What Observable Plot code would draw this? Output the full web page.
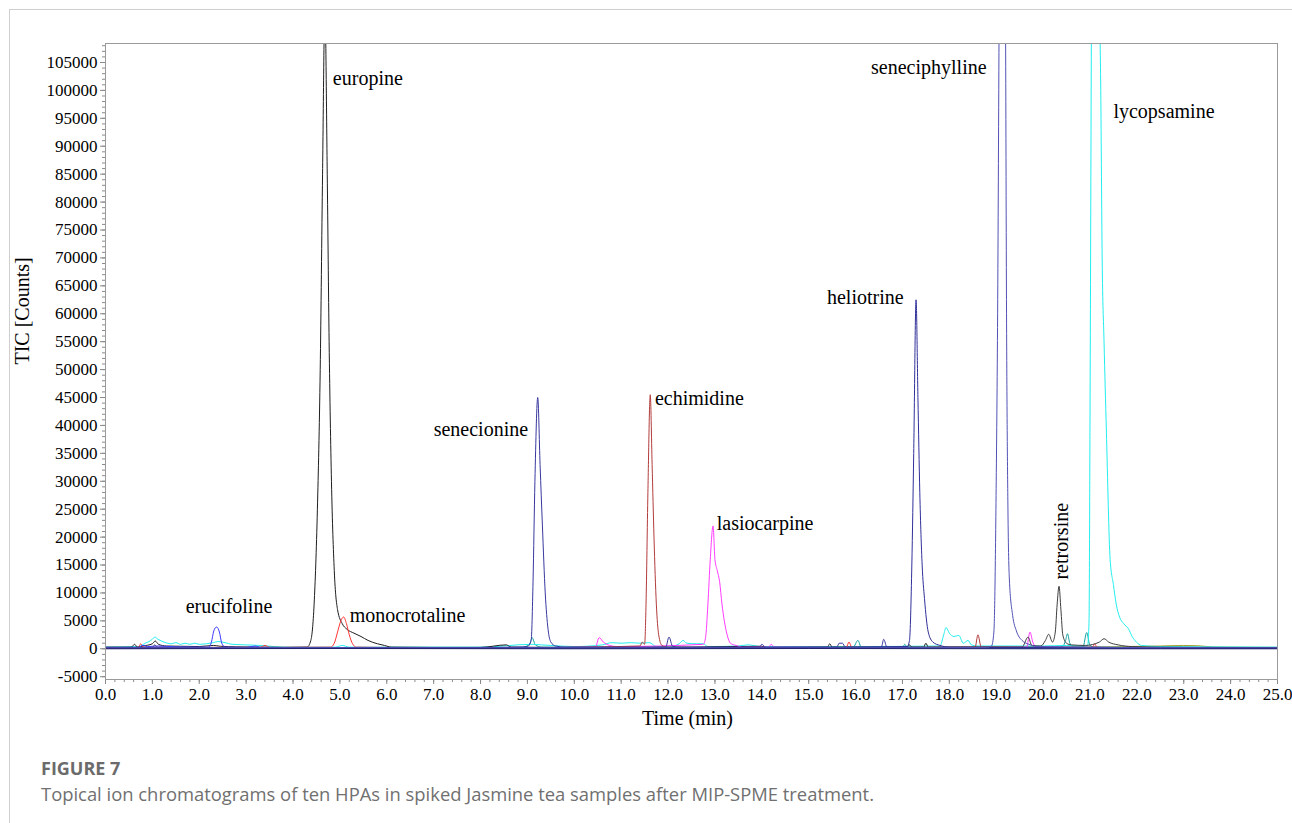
<!DOCTYPE html>
<html>
<head>
<meta charset="utf-8">
<script src="https://cdn.jsdelivr.net/npm/d3@7"></script>
<script src="https://cdn.jsdelivr.net/npm/@observablehq/plot@0.6"></script>
<style>
  html, body { margin: 0; padding: 0; background: #fff; overflow: hidden; }
  #wrap { position: relative; width: 1292px; height: 823px; }
  #border { position: absolute; left: 9px; top: 9px; width: 1400px; height: 1000px; border-left: 1px solid #cfcfcf; border-top: 1px solid #cfcfcf; }
  #chart { position: absolute; left: 0; top: 0; }
  #fig { position: absolute; left: 41px; top: 757px; font-family: "Open Sans", sans-serif; font-weight: 700; font-size: 18px; color: #6b6b6b; line-height: 22px; }
  #cap { position: absolute; left: 41px; top: 783px; font-family: "Open Sans", sans-serif; font-size: 18.4px; color: #707070; line-height: 22px; white-space: nowrap; }
</style>
</head>
<body>
<div id="wrap">
  <div id="border"></div>
  <div id="chart"></div>
  <div id="fig">FIGURE 7</div>
  <div id="cap">Topical ion chromatograms of ten HPAs in spiked Jasmine tea samples after MIP-SPME treatment.</div>
</div>
<script>
// ---- data: [time (min), TIC counts] ----
const erucifoline = [[0,250],[0.7,250],[0.8,600],[0.9,400],[1.1,500],[1.5,350],[2.0,300],[2.2,300],[2.26,1200],[2.31,3200],[2.37,3900],[2.43,3000],[2.48,1000],[2.55,300],[3.0,250],[3.2,500],[3.3,250],[4.0,200],[6.0,200],[8.0,200],[10.0,150],[12.0,150],[14.0,150],[16.0,150],[18.0,150],[20.0,150],[22.0,150],[25.0,100]];
const europine = [[0,300],[0.55,300],[0.62,800],[0.68,300],[0.8,500],[1.0,900],[1.06,1400],[1.13,800],[1.3,500],[1.6,450],[2.0,400],[2.3,600],[2.45,450],[2.8,350],[3.3,300],[3.8,250],[4.3,300],[4.38,1500],[4.45,8000],[4.52,25000],[4.58,50000],[4.63,85000],[4.68,115000],[4.73,85000],[4.77,55000],[4.82,30000],[4.88,14000],[4.95,7000],[5.05,4500],[5.15,3500],[5.3,2800],[5.45,2200],[5.6,1500],[5.8,900],[5.95,600],[6.1,300],[7.0,250],[8.0,250],[8.55,700],[8.65,300],[9.5,250],[11.0,300],[12.5,300],[14.0,450],[14.1,250],[15.4,300],[15.45,900],[15.5,300],[17.1,300],[17.15,700],[17.2,300],[17.45,300],[17.5,1000],[17.55,300],[19.0,300],[21.0,250],[22.0,200],[25.0,150]];
const monocrotaline = [[0,200],[0.7,250],[0.75,900],[0.8,300],[1.5,250],[3.3,250],[3.4,600],[3.5,250],[4.8,300],[4.88,1000],[4.95,3000],[5.02,5000],[5.08,5700],[5.14,4500],[5.2,2500],[5.27,900],[5.35,300],[7.0,200],[9.0,200],[11.0,250],[13.0,200],[15.8,250],[15.86,1200],[15.92,250],[18.0,200],[21.05,250],[21.1,900],[21.15,250],[25.0,150]];
const senecionine = [[0,150],[2.0,200],[4.0,150],[7.0,200],[8.8,300],[9.0,400],[9.08,1500],[9.12,12000],[9.16,30000],[9.22,45000],[9.27,33000],[9.32,22000],[9.38,10000],[9.44,3500],[9.5,1200],[9.6,500],[9.8,300],[11.95,300],[12.02,2100],[12.1,400],[12.3,300],[13.95,300],[14.0,800],[14.08,300],[15.6,300],[15.65,1000],[15.72,1000],[15.78,300],[16.55,300],[16.6,1700],[16.67,300],[19.0,200],[22.0,150],[25.0,100]];
const echimidine = [[0,150],[3.0,200],[6.0,150],[9.0,200],[11.4,500],[11.45,1200],[11.5,800],[11.53,8000],[11.57,28000],[11.62,45500],[11.66,33000],[11.7,20000],[11.75,8000],[11.8,2500],[11.87,600],[12.0,250],[15.0,200],[18.55,300],[18.61,2500],[18.68,300],[21.0,200],[25.0,150]];
const lasiocarpine = [[0,150],[3.0,150],[6.0,150],[9.0,200],[10.45,300],[10.53,2000],[10.62,1200],[10.75,600],[10.9,400],[12.75,800],[12.8,2000],[12.85,8000],[12.9,16000],[12.96,22000],[13.0,16000],[13.05,14000],[13.1,12000],[13.15,8000],[13.2,5000],[13.26,2500],[13.33,1000],[13.45,600],[13.6,300],[14.15,300],[14.2,800],[14.27,300],[17.0,200],[19.65,300],[19.72,3000],[19.78,1200],[19.85,300],[22.0,150],[25.0,100]];
const heliotrine = [[0,150],[5.0,150],[10.0,150],[15.0,200],[17.1,400],[17.15,1500],[17.2,15000],[17.24,35000],[17.29,62500],[17.33,45000],[17.37,28000],[17.42,15000],[17.47,9000],[17.55,3000],[17.65,1200],[17.8,600],[18.0,300],[20.0,200],[25.0,100]];
const seneciphylline = [[0,150],[5.0,200],[10.0,150],[15.0,150],[18.8,250],[18.9,500],[18.95,3000],[19.0,30000],[19.03,60000],[19.06,110000],[19.1,180000],[19.15,170000],[19.2,110000],[19.22,60000],[19.25,25000],[19.28,12500],[19.35,6000],[19.43,3200],[19.55,1500],[19.7,800],[19.9,400],[21.0,300],[22.0,200],[25.0,150]];
const retrorsine = [[0,200],[1.0,300],[1.05,700],[1.1,300],[4.0,200],[8.0,200],[12.0,250],[16.0,250],[19.55,300],[19.68,2100],[19.76,600],[19.95,500],[20.05,1500],[20.12,2600],[20.2,1200],[20.26,3000],[20.3,8000],[20.34,11200],[20.38,7000],[20.42,2500],[20.5,1000],[20.6,700],[20.9,600],[21.2,1200],[21.3,1800],[21.4,1200],[21.6,700],[21.9,400],[22.5,300],[25,200]];
const lycopsamine = [[0,300],[0.7,400],[0.85,1000],[1.0,1700],[1.05,2100],[1.12,1700],[1.25,1200],[1.4,900],[1.5,1100],[1.6,800],[1.7,1000],[1.8,800],[1.9,1000],[2.0,800],[2.15,900],[2.3,1100],[2.4,1300],[2.55,1100],[2.7,800],[3.0,700],[3.3,600],[3.6,400],[4.0,300],[4.9,300],[5.05,600],[5.2,300],[6.0,300],[8.0,300],[9.1,800],[9.3,700],[9.5,600],[10.0,400],[10.6,700],[10.8,1100],[11.0,1000],[11.2,1100],[11.4,1000],[11.6,1100],[11.75,400],[12.1,500],[12.25,1000],[12.32,1500],[12.4,1000],[12.6,900],[12.75,900],[12.85,400],[13.5,500],[13.7,700],[14.0,400],[16.0,400],[17.8,500],[17.88,2500],[17.93,3800],[18.0,2800],[18.1,2200],[18.2,2400],[18.3,1000],[18.4,1500],[18.47,700],[18.6,500],[20.0,500],[20.5,600],[20.9,500],[20.95,600],[20.98,5000],[21.0,40000],[21.03,110000],[21.08,200000],[21.14,220000],[21.2,120000],[21.23,100000],[21.26,70000],[21.3,55000],[21.35,39000],[21.43,16000],[21.5,11500],[21.56,8000],[21.63,5700],[21.72,4500],[21.82,3600],[21.9,2200],[21.99,1200],[22.1,600],[22.5,400],[25,300]];
const tealTrace = [[0,150],[5,150],[8.9,250],[9.05,900],[9.1,2000],[9.17,700],[9.3,300],[12,200],[15.95,300],[16.05,1500],[16.12,300],[17.0,250],[17.05,800],[17.1,250],[20.4,300],[20.48,1500],[20.52,2700],[20.57,1000],[20.65,300],[20.85,300],[20.93,2900],[21.0,600],[21.1,300],[25,150]];
const greenTrace = [[0,100],[3,150],[6,100],[9,150],[12,100],[15,150],[18,100],[21,150],[25,100]];
const oliveTrace = [[0,200],[5,200],[10,200],[15,200],[20,250],[22.5,500],[23.0,600],[23.3,550],[23.6,350],[25,250]];
const darkBaseline = [[0,0],[5,50],[10,0],[15,50],[20,0],[25,0]];

const seriesData = [greenTrace, oliveTrace, tealTrace, lycopsamine, europine, monocrotaline, lasiocarpine, echimidine, retrorsine, erucifoline, senecionine, heliotrine, seneciphylline, darkBaseline];
const seriesColors = ["#1f9a1f", "#a3a332", "#12a0a0", "#22eeee", "#1e1e1e", "#ff3535", "#ff3cff", "#b33c3c", "#3e3e3e", "#3c3cff", "#3838a0", "#30309a", "#5252b6", "#22226e"];

const labelNames = ["europine", "erucifoline", "monocrotaline", "senecionine", "echimidine", "lasiocarpine", "heliotrine", "seneciphylline", "lycopsamine"];
const labelT = [4.85, 1.71, 5.21, 7.0, 11.72, 13.04, 15.39, 16.33, 21.5];
const labelV = [102100, 7500, 5900, 39200, 44800, 22400, 62900, 104100, 96200];
const rotLabel = ["retrorsine"];
const rotT = [20.39];
const rotV = [12400];

const xTicks = [0,1,2,3,4,5,6,7,8,9,10,11,12,13,14,15,16,17,18,19,20,21,22,23,24,25];
const yTicks = [-5000,0,5000,10000,15000,20000,25000,30000,35000,40000,45000,50000,55000,60000,65000,70000,75000,80000,85000,90000,95000,100000,105000];
const xMinor = d3.range(0, 25.001, 0.2);
const yMinor = d3.range(-5000, 108001, 1000);

const serif = "Liberation Serif";

const lineMarks = seriesData.map((data, i) => Plot.line(data, {
  x: d => d[0], y: d => d[1], stroke: seriesColors[i], strokeWidth: 1, curve: "monotone-x", clip: true
}));

const chart = Plot.plot({
  width: 1292,
  height: 740,
  marginLeft: 105,
  marginRight: 15,
  marginTop: 43,
  marginBottom: 61,
  style: { fontFamily: serif, background: "transparent", color: "black" },
  x: { domain: [0, 25] },
  y: { domain: [-5500, 108400] },
  marks: [
    Plot.axisX(xMinor, { tickSize: 3, stroke: "#8a8a8a", tickFormat: () => "", label: null }),
    Plot.axisX(xTicks, { tickSize: 5, stroke: "#8a8a8a", tickFormat: () => "", label: null }),
    Plot.axisY(yMinor, { tickSize: 3, stroke: "#8a8a8a", tickFormat: () => "", label: null }),
    Plot.axisY(yTicks, { tickSize: 5, stroke: "#8a8a8a", tickFormat: () => "", label: null }),
    Plot.text(xTicks, { x: d => d, frameAnchor: "bottom", dy: 15, text: d => d.toFixed(1), textAnchor: "middle", fontSize: 17, fontFamily: serif, fill: "black", lineAnchor: "middle" }),
    Plot.text(yTicks, { y: d => d, frameAnchor: "left", dx: -8, text: d => String(d), textAnchor: "end", fontSize: 17, fontFamily: serif, fill: "black", lineAnchor: "middle" }),
    ...lineMarks,
    Plot.frame({ stroke: "#9a9a9a" }),
    Plot.text(labelNames, { x: (d, i) => labelT[i], y: (d, i) => labelV[i], text: d => d, textAnchor: "start", fontSize: 20, fontFamily: serif, fill: "black" }),
    Plot.text(rotLabel, { x: (d, i) => rotT[i], y: (d, i) => rotV[i], text: d => d, textAnchor: "start", rotate: -90, fontSize: 20, fontFamily: serif, fill: "black" }),
    Plot.text(["Time (min)"], { frameAnchor: "bottom", dx: -4, dy: 39, text: d => d, textAnchor: "middle", fontSize: 20, fontFamily: serif, fill: "black", lineAnchor: "middle" }),
    Plot.text(["TIC [Counts]"], { y: () => 60500, frameAnchor: "left", dx: -83, text: d => d, rotate: -90, textAnchor: "middle", fontSize: 20, fontFamily: serif, fill: "black", lineAnchor: "middle" })
  ]
});
document.getElementById("chart").appendChild(chart);
</script>
</body>
</html>
